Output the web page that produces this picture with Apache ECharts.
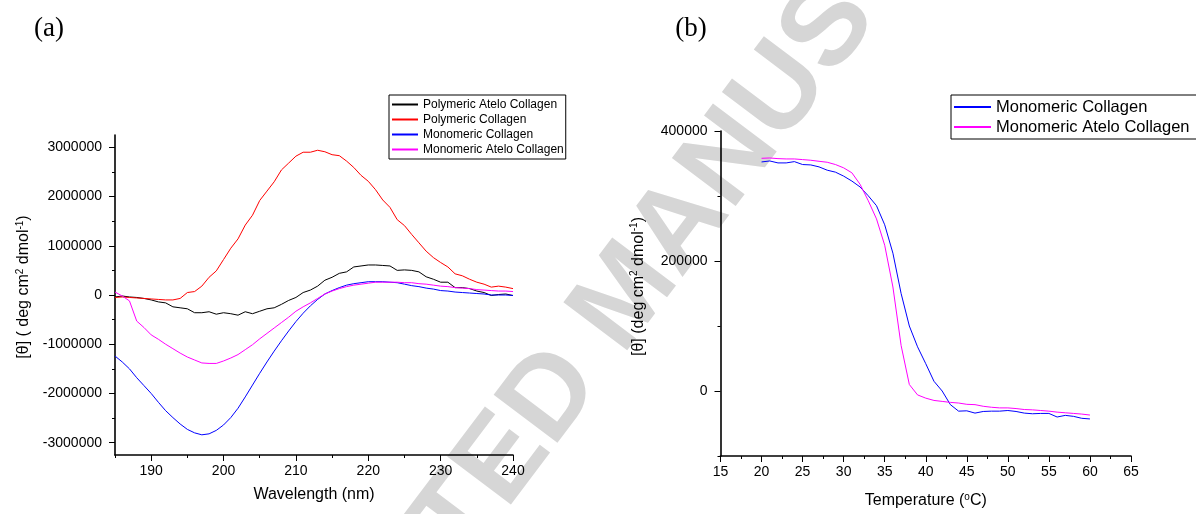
<!DOCTYPE html>
<html>
    <head>
        <meta charset="utf-8">
        <style>
            body { margin: 0; background: #fff; }
        </style>
    </head>
    <body>
        <div id="main" style="width: 1196px; height: 514px"></div>

        <script type="text/javascript" src="https://cdn.jsdelivr.net/npm/echarts/dist/echarts.min.js"></script>
        <script type="text/javascript">

            // (a) CD spectra, wavelength in nm
            const wavelength = [185, 186, 187, 188, 189, 190, 191, 192, 193, 194, 195, 196, 197, 198, 199,
                200, 201, 202, 203, 204, 205, 206, 207, 208, 209, 210, 211, 212, 213, 214, 215, 216, 217,
                218, 219, 220, 221, 222, 223, 224, 225, 226, 227, 228, 229, 230, 231, 232, 233, 234, 235,
                236, 237, 238, 239, 240];

            const polymericAtelo = [-40000, -20000, -40000, -50000, -70000, -100000, -140000, -160000, -240000,
                -260000, -280000, -360000, -360000, -340000, -390000, -360000, -380000, -410000, -340000,
                -380000, -330000, -280000, -260000, -190000, -110000, -50000, 50000, 100000, 180000, 300000,
                360000, 440000, 470000, 570000, 590000, 610000, 610000, 600000, 590000, 500000, 510000,
                500000, 470000, 370000, 320000, 260000, 260000, 150000, 150000, 130000, 80000, 50000,
                -10000, 10000, 20000, -10000];

            const polymeric = [-50000, -40000, -50000, -60000, -70000, -80000, -90000, -100000, -100000,
                -70000, 50000, 70000, 180000, 360000, 490000, 720000, 950000, 1140000, 1420000, 1620000,
                1920000, 2110000, 2300000, 2540000, 2680000, 2820000, 2900000, 2900000, 2940000, 2910000,
                2850000, 2830000, 2720000, 2590000, 2430000, 2310000, 2140000, 1930000, 1780000, 1530000,
                1410000, 1230000, 1060000, 890000, 760000, 660000, 570000, 430000, 390000, 320000, 260000,
                220000, 160000, 180000, 160000, 130000];

            const monomeric = [-1240000, -1360000, -1500000, -1680000, -1840000, -2000000, -2180000, -2350000,
                -2490000, -2620000, -2730000, -2800000, -2840000, -2820000, -2750000, -2640000, -2490000,
                -2300000, -2070000, -1830000, -1590000, -1360000, -1140000, -930000, -730000, -540000,
                -370000, -220000, -90000, 20000, 90000, 150000, 200000, 230000, 250000, 270000, 270000,
                270000, 260000, 250000, 220000, 190000, 170000, 140000, 120000, 90000, 80000, 60000, 50000,
                40000, 30000, 20000, 0, 0, 0, -10000];

            const monomericAtelo = [60000, -20000, -120000, -530000, -660000, -810000, -900000, -1000000,
                -1090000, -1180000, -1260000, -1320000, -1380000, -1390000, -1390000, -1340000, -1280000,
                -1210000, -1110000, -1010000, -890000, -780000, -670000, -560000, -450000, -330000, -240000,
                -160000, -70000, 20000, 80000, 130000, 170000, 200000, 220000, 240000, 260000, 260000,
                260000, 260000, 250000, 250000, 230000, 220000, 200000, 180000, 170000, 150000, 140000,
                130000, 110000, 100000, 90000, 80000, 80000, 70000];

            // (b) thermal denaturation, temperature in oC
            const temperature = [20, 21, 22, 23, 24, 25, 26, 27, 28, 29, 30, 31, 32, 33, 34, 35, 36, 37, 38, 39,
                40, 41, 42, 43, 44, 45, 46, 47, 48, 49, 50, 51, 52, 53, 54, 55, 56, 57, 58, 59, 60];

            const meltMonomeric = [352400, 353900, 350900, 350900, 352900, 348400, 347800, 344800, 339700,
                336700, 330600, 323000, 313900, 300300, 285100, 255700, 212000, 150000, 100000, 68000,
                42000, 15000, 0, -21000, -31000, -30500, -34000, -31500, -31000, -31000, -30000, -31500,
                -34000, -35000, -34500, -34500, -40000, -37500, -39000, -42000, -43000];

            const meltMonomericAtelo = [358000, 358500, 357500, 357000, 357000, 356000, 355000, 353400,
                351900, 348400, 343300, 335700, 318000, 292700, 264800, 224300, 160000, 70000, 10000, -6000,
                -11000, -14500, -16000, -17500, -18500, -20500, -21000, -23500, -25000, -26000, -26000,
                -27000, -28500, -29000, -30000, -31000, -32500, -33500, -34500, -35500, -37000];

            // tick marks
            const aXMajor = [190, 200, 210, 220, 230, 240];
            const aXMinor = [185, 195, 205, 215, 225, 235];
            const aYMajor = [-3000000, -2000000, -1000000, 0, 1000000, 2000000, 3000000];
            const aYMinor = [-2500000, -1500000, -500000, 500000, 1500000, 2500000];
            const bXMajor = [15, 20, 25, 30, 35, 40, 45, 50, 55, 60, 65];
            const bXMinor = [17.5, 22.5, 27.5, 32.5, 37.5, 42.5, 47.5, 52.5, 57.5, 62.5];
            const bYMajor = [0, 200000, 400000];
            const bYMinor = [-100000, 100000, 300000];

            const FONT = "'Liberation Sans', Arial, sans-serif";

            function pairs(xs, ys) {
                return xs.map(function (x, i) { return [x, ys[i]]; });
            }

            function mainAxis(grid, min, max, ticks, pos, margin, extra) {
                return Object.assign({
                    type: 'value', gridIndex: grid, min: min, max: max, position: pos,
                    axisLine: { onZero: false, lineStyle: { color: '#000', width: 1.6 } },
                    axisTick: { customValues: ticks, length: 6, lineStyle: { color: '#000', width: 1 } },
                    axisLabel: {
                        customValues: ticks, color: '#000', fontFamily: FONT, fontSize: 14, margin: margin,
                        formatter: function (v) { return String(v); }
                    },
                    splitLine: { show: false }
                }, extra);
            }

            function minorAxis(grid, min, max, ticks, pos) {
                return {
                    type: 'value', gridIndex: grid, min: min, max: max, position: pos,
                    axisLine: { show: false, onZero: false },
                    axisTick: { customValues: ticks, length: 3, lineStyle: { color: '#000', width: 1 } },
                    axisLabel: { show: false },
                    splitLine: { show: false }
                };
            }

            function richName(pad) {
                return {
                    padding: pad,
                    rich: {
                        t: { fontFamily: FONT, fontSize: 16, color: '#000', lineHeight: 18 },
                        s: { fontFamily: FONT, fontSize: 10, color: '#000', lineHeight: 10, verticalAlign: 'top' }
                    }
                };
            }

            var chartDom = document.getElementById('main');
            var myChart = echarts.init(chartDom);
            var option;

            option = {
                animation: false,
                backgroundColor: '#fff',
                grid: [
                    { left: 115, top: 135, width: 398, height: 320 },
                    { left: 720.5, top: 131, width: 410.5, height: 330 }
                ],
                xAxis: [
                    mainAxis(0, 185, 240, aXMajor, 'bottom', 9, {
                        name: 'Wavelength (nm)', nameLocation: 'middle', nameGap: 32,
                        nameTextStyle: { fontFamily: FONT, fontSize: 16, color: '#000' }
                    }),
                    minorAxis(0, 185, 240, aXMinor, 'bottom'),
                    mainAxis(1, 15, 65, bXMajor, 'bottom', 9, {
                        name: '{t|Temperature (}{s|o}{t|C)}', nameLocation: 'middle', nameGap: 36,
                        nameTextStyle: richName(0)
                    }),
                    minorAxis(1, 15, 65, bXMinor, 'bottom')
                ],
                yAxis: [
                    mainAxis(0, -3250000, 3250000, aYMajor, 'left', 13, {
                        name: '{t|[θ] ( deg cm}{s|2}{t| dmol}{s|-1}{t|)}', nameLocation: 'middle', nameGap: 82,
                        nameTextStyle: richName([0, 0, 0, 16])
                    }),
                    minorAxis(0, -3250000, 3250000, aYMinor, 'left'),
                    mainAxis(1, -100000, 400000, bYMajor, 'left', 13, {
                        name: '{t|[θ] (deg cm}{s|2}{t| dmol}{s|-1}{t|)}', nameLocation: 'middle', nameGap: 73,
                        nameTextStyle: richName([0, 0, 0, 14])
                    }),
                    minorAxis(1, -100000, 400000, bYMinor, 'left')
                ],
                legend: [
                    {
                        data: ['Polymeric Atelo Collagen', 'Polymeric Collagen', 'Monomeric Collagen', 'Monomeric Atelo Collagen'],
                        orient: 'vertical', left: 389, top: 95, selectedMode: false,
                        itemWidth: 26, itemHeight: 15, itemGap: 0, padding: [2, 2, 2, 2],
                        itemStyle: { opacity: 0 },
                        borderColor: '#000', borderWidth: 1,
                        textStyle: { fontFamily: FONT, fontSize: 12, color: '#000', lineHeight: 15 }
                    },
                    {
                        data: ['Monomeric Collagen', 'Monomeric Atelo Collagen'],
                        orient: 'vertical', left: 951, top: 95, selectedMode: false,
                        itemWidth: 37, itemHeight: 20, itemGap: 0, padding: [2, 16, 2, 2],
                        itemStyle: { opacity: 0 },
                        borderColor: '#000', borderWidth: 1,
                        textStyle: { fontFamily: FONT, fontSize: 16.5, color: '#000', lineHeight: 20 }
                    }
                ],
                graphic: [
                    {
                        type: 'text', x: 628, y: 296, rotation: 53 * Math.PI / 180, z: -10, silent: true,
                        style: {
                            text: 'ACCEPTED MANUSCRIPT', x: 0, y: 0, align: 'center', verticalAlign: 'middle',
                            font: "bold 116px 'Liberation Sans', Arial, sans-serif", fill: '#d6d6d6'
                        }
                    },
                    {
                        type: 'text', x: 49, y: 29, z: 5,
                        style: {
                            text: '(a)', x: 0, y: 0, align: 'center', verticalAlign: 'middle',
                            font: "27px 'Liberation Serif', 'Times New Roman', serif", fill: '#000'
                        }
                    },
                    {
                        type: 'text', x: 691, y: 29, z: 5,
                        style: {
                            text: '(b)', x: 0, y: 0, align: 'center', verticalAlign: 'middle',
                            font: "27px 'Liberation Serif', 'Times New Roman', serif", fill: '#000'
                        }
                    }
                ],
                series: [
                    { name: 'Polymeric Atelo Collagen', type: 'line', xAxisIndex: 0, yAxisIndex: 0, symbol: 'none',
                      color: '#000000', lineStyle: { width: 1 }, data: pairs(wavelength, polymericAtelo) },
                    { name: 'Polymeric Collagen', type: 'line', xAxisIndex: 0, yAxisIndex: 0, symbol: 'none',
                      color: '#ff0000', lineStyle: { width: 1 }, data: pairs(wavelength, polymeric) },
                    { name: 'Monomeric Collagen', type: 'line', xAxisIndex: 0, yAxisIndex: 0, symbol: 'none',
                      color: '#0000ff', lineStyle: { width: 1 }, data: pairs(wavelength, monomeric) },
                    { name: 'Monomeric Atelo Collagen', type: 'line', xAxisIndex: 0, yAxisIndex: 0, symbol: 'none',
                      color: '#ff00ff', lineStyle: { width: 1 }, data: pairs(wavelength, monomericAtelo) },
                    { name: 'Monomeric Collagen', type: 'line', xAxisIndex: 2, yAxisIndex: 2, symbol: 'none',
                      color: '#0000ff', lineStyle: { width: 1 }, data: pairs(temperature, meltMonomeric) },
                    { name: 'Monomeric Atelo Collagen', type: 'line', xAxisIndex: 2, yAxisIndex: 2, symbol: 'none',
                      color: '#ff00ff', lineStyle: { width: 1 }, data: pairs(temperature, meltMonomericAtelo) }
                ]
            };

            option && myChart.setOption(option);

        </script>
    </body>
</html>
